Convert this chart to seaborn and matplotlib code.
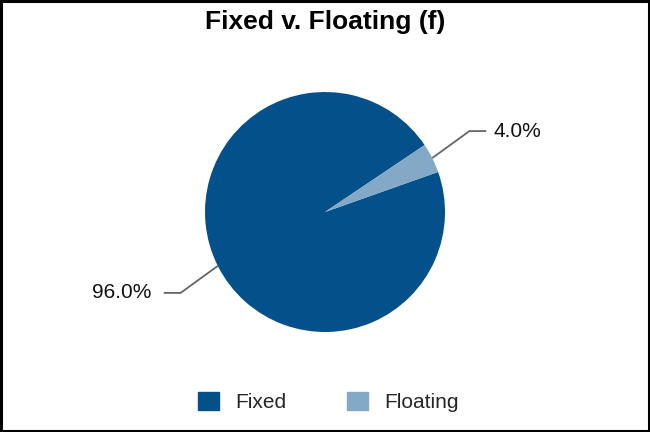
import numpy as np
import matplotlib
matplotlib.use("Agg")
import matplotlib.pyplot as plt
from matplotlib.patches import Rectangle
import seaborn as sns

# data
labels = ["Fixed", "Floating"]
shares = [96.0, 4.0]
colors = ["#03508b", "#84a9c6"]
title = "Fixed v. Floating (f)"

sns.set_theme(style="white")
plt.rcParams["font.family"] = ["Liberation Sans", "DejaVu Sans"]

fig = plt.figure(figsize=(6.5, 4.32), dpi=100)
ax = fig.add_axes([0, 0, 1, 1])
r_px = 120.0

start = 33.9
wedges, _ = ax.pie(shares, colors=colors, startangle=start, counterclock=True,
                   radius=1.0, center=(0, 0), frame=True,
                   wedgeprops=dict(linewidth=0))
ax.set_xlim(-325 / r_px, 325 / r_px)
ax.set_ylim(-(432 - 212) / r_px, 212 / r_px)
ax.axis("off")

# leader lines and labels
for w, val in zip(wedges, shares):
    mid = np.deg2rad((w.theta1 + w.theta2) / 2)
    x0, y0 = np.cos(mid), np.sin(mid)
    sx = 1 if x0 >= 0 else -1
    sy = 1 if y0 >= 0 else -1
    x1, y1 = x0 + sx * 0.31, y0 + sy * 0.225
    x2 = x1 + sx * 0.14
    ax.plot([x0, x1, x2], [y0, y1, y1], color="#666666", lw=1.3,
            solid_capstyle="butt")
    gap = 0.06 if sx > 0 else 0.1
    ax.text(x2 + sx * gap, y1, f"{val:.1f}%", ha="left" if sx > 0 else "right",
            va="center", fontsize=15, color="#111111")

fig.text(0.5, 1 - 22 / 432, title, ha="center", va="center",
         fontsize=19, fontweight="bold", color="black")

handles = [Rectangle((0, 0), 1, 1, color=c) for c in colors]
fig.legend(handles, labels, loc="center", bbox_to_anchor=(0.505, 1 - 402 / 432),
           ncol=2, frameon=False, fontsize=15, handlelength=1.0, handleheight=1.0,
           columnspacing=2.9, handletextpad=0.8)

fig.patches.append(Rectangle((0.002, 0.003), 0.996, 0.994, transform=fig.transFigure,
                             fill=False, edgecolor="black", lw=2.2))

fig.savefig("out.png", dpi=100)
